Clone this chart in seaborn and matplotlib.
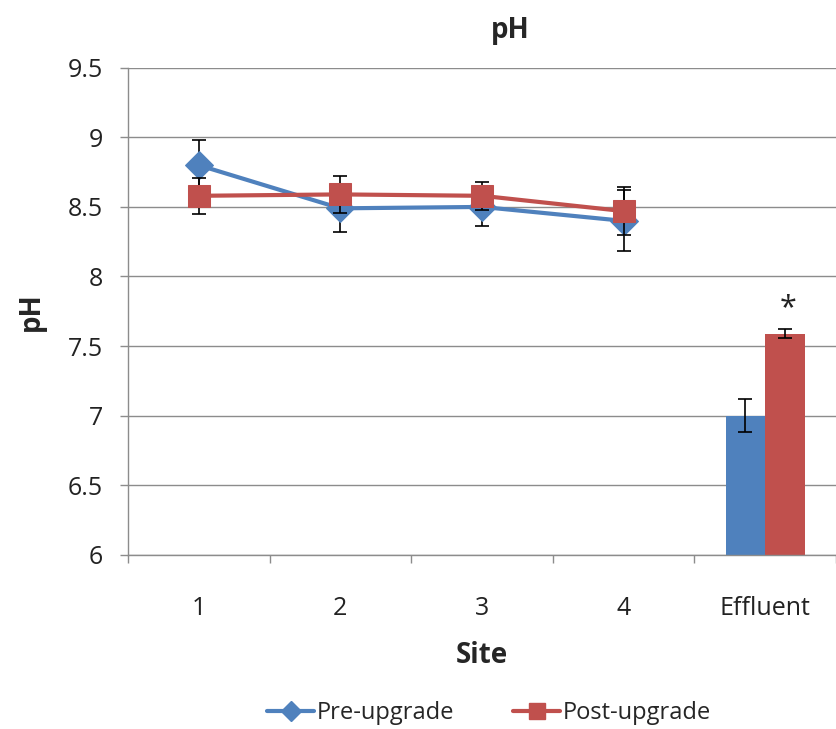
import matplotlib
matplotlib.use("Agg")
import matplotlib.pyplot as plt
from matplotlib.lines import Line2D
from matplotlib.ticker import FixedLocator, NullFormatter
import seaborn as sns
import pandas as pd
import numpy as np

# ---- data ----
categories = ["1", "2", "3", "4", "Effluent"]
sites = [0, 1, 2, 3]
pre_site = [8.80, 8.49, 8.50, 8.40]
pre_site_err = [0.18, 0.17, 0.14, 0.22]
post_site = [8.58, 8.59, 8.58, 8.47]
post_site_err = [0.13, 0.135, 0.10, 0.17]
effluent_pre = 7.00
effluent_pre_err = 0.12
effluent_post = 7.59
effluent_post_err = 0.035
series = ["Pre-upgrade", "Post-upgrade"]

BLUE = "#4F81BD"
RED = "#C0504D"
GRID = "#8C8C8C"

sns.set_theme(style="white")
plt.rcParams["font.family"] = ["Open Sans", "DejaVu Sans"]

fig = plt.figure(figsize=(8.36, 7.29), dpi=100)
ax = fig.add_axes([0.153, 0.239, 0.847, 0.668])

# Effluent bars via seaborn barplot (categorical axis)
bar_df = pd.DataFrame({
    "Site": ["Effluent", "Effluent"],
    "pH": [effluent_pre, effluent_post],
    "Series": series,
})
sns.barplot(data=bar_df, x="Site", y="pH", hue="Series", order=categories,
            hue_order=series, palette=[BLUE, RED], width=0.56, errorbar=None,
            ax=ax, legend=False, saturation=1)
for p in ax.patches:
    p.set_edgecolor("none")

# error bars on bars
bar_x = [p.get_x() + p.get_width() / 2 for p in ax.patches if p.get_height() > 0]
ax.errorbar(bar_x, [effluent_pre, effluent_post], yerr=[effluent_pre_err, effluent_post_err],
            fmt="none", ecolor="black", elinewidth=1.2, capsize=5, capthick=1.2, zorder=5)
ax.text(bar_x[1] + 0.02, effluent_post + effluent_post_err + 0.04, "*",
        ha="center", va="bottom", fontsize=22, color="#222222")

# Lines
line_df = pd.DataFrame({
    "x": sites * 2,
    "pH": pre_site + post_site,
    "Series": [series[0]] * 4 + [series[1]] * 4,
})
sns.lineplot(data=line_df[line_df.Series == series[0]], x="x", y="pH", color=BLUE,
             lw=3, marker="D", markersize=14, markeredgecolor=BLUE, ax=ax, zorder=3,
             legend=False)
sns.lineplot(data=line_df[line_df.Series == series[1]], x="x", y="pH", color=RED,
             lw=3, marker="s", markersize=16, markeredgecolor=RED, ax=ax, zorder=4,
             legend=False)
ax.errorbar(sites, pre_site, yerr=pre_site_err, fmt="none", ecolor="black",
            elinewidth=1.2, capsize=5, capthick=1.2, zorder=2.5)
ax.errorbar(sites, post_site, yerr=post_site_err, fmt="none", ecolor="black",
            elinewidth=1.2, capsize=5, capthick=1.2, zorder=3.5)

# axes styling
ax.set_xlim(-0.5, 4.5)
ax.set_ylim(6, 9.5)
ax.set_yticks(np.arange(6, 9.51, 0.5))
ax.set_yticklabels(["6", "6.5", "7", "7.5", "8", "8.5", "9", "9.5"])
ax.set_xticks(range(5))
ax.set_xticklabels(categories)
ax.xaxis.set_minor_locator(FixedLocator(np.arange(-0.5, 4.6, 1)))
ax.xaxis.set_minor_formatter(NullFormatter())
ax.tick_params(axis="x", which="major", length=0, pad=30, labelsize=18, colors="#222222")
ax.tick_params(axis="x", which="minor", length=6, width=1, color=GRID, bottom=True)
ax.tick_params(axis="y", which="major", length=6, width=1, color=GRID, left=True,
               labelsize=18, pad=12, labelcolor="#222222")
ax.yaxis.grid(True, color=GRID, lw=1)
ax.xaxis.grid(False)
ax.set_axisbelow(True)
for s in ["top", "right"]:
    ax.spines[s].set_visible(False)
for s in ["left", "bottom"]:
    ax.spines[s].set_color(GRID)
    ax.spines[s].set_linewidth(1)

ax.set_xlabel("Site", fontsize=20, fontweight="bold", labelpad=14)
ax.set_ylabel("pH", fontsize=20, fontweight="bold", labelpad=16)
fig.text(0.61, 0.958, "pH", ha="center", va="center", fontsize=20, fontweight="bold")

handles = [
    Line2D([], [], color=BLUE, lw=3, marker="D", markersize=10, markeredgecolor=BLUE),
    Line2D([], [], color=RED, lw=3, marker="s", markersize=12, markeredgecolor=RED),
]
fig.legend(handles, series, loc="center", bbox_to_anchor=(0.585, 0.022), ncol=2,
           frameon=False, fontsize=17, handlelength=2.0, handletextpad=0.1,
           columnspacing=2.5)

fig.savefig("out.png", dpi=100)
